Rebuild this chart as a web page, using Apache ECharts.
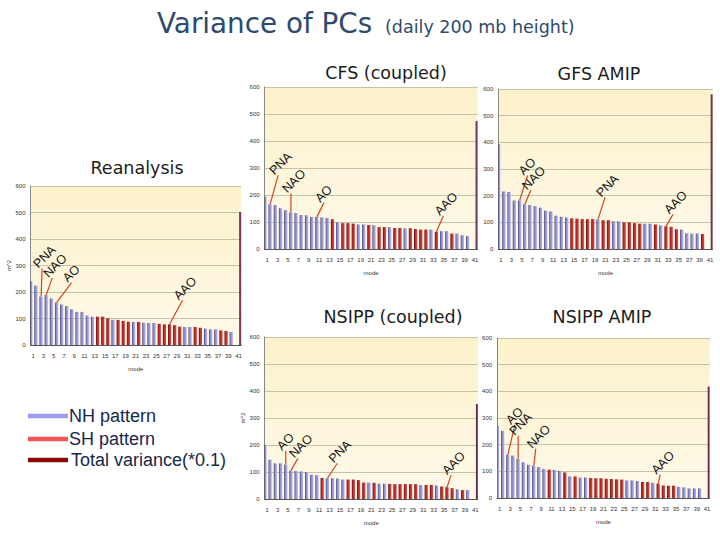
<!DOCTYPE html>
<html><head><meta charset="utf-8">
<script src="https://cdn.jsdelivr.net/npm/echarts@6/dist/echarts.min.js"></script>
<style>html,body{margin:0;padding:0;background:#fff}#c{width:720px;height:540px}</style>
</head><body><div id="c"></div>
<script>
// ---------- DATA ----------
const modes = ['1','2','3','4','5','6','7','8','9','10','11','12','13','14','15','16','17','18','19','20',
  '21','22','23','24','25','26','27','28','29','30','31','32','33','34','35','36','37','38','39','40','41'];
const yTicks = [0,100,200,300,400,500,600];
const panelTitles = ['Reanalysis','CFS (coupled)','GFS AMIP','NSIPP (coupled)','NSIPP AMIP'];
const legendLabels = ['NH pattern','SH pattern','Total variance(*0.1)'];

const reanalysisValues = [241,224,183,189,176,160,153,147,135,125,125,111,107,107,107,101,95,95,91,88,
  87,87,84,83,83,80,78,78,75,69,68,68,68,65,62,59,59,55,53,49];
const reanalysisHemi = 'NNNNNNNNNNNNNSSSNSSSNSNNNSSSSSNNSSNNNSSN';
const reanalysisTotal = 502;
const reanalysisMarks = [['PNA',3],['NAO',4],['AO',6],['AAO',28]];

const cfsValues = [194,166,163,151,144,136,133,126,125,119,119,117,115,110,99,96,96,94,91,91,
  89,88,81,81,81,78,78,77,77,74,72,72,72,64,66,66,57,57,51,48];
const cfsHemi = 'NNNNNNNNNNNNNSNSSSNNSNSSNSSNSSSSNSNNSNNN';
const cfsTotal = 474;
const cfsMarks = [['PNA',2],['NAO',6],['AO',11],['AAO',34]];

const gfsValues = [393,216,214,182,182,168,165,161,155,144,141,125,121,118,115,114,112,112,112,111,
  108,108,104,104,100,100,97,95,95,95,92,89,85,83,74,73,59,58,58,56];
const gfsHemi = 'NNNNNNNNNNNNNNSSSSSNSSNNSSSSNNSNSSSNNNNS';
const gfsTotal = 580;
const gfsMarks = [['AO',5],['NAO',6],['PNA',20],['AAO',33]];

const nsippCValues = [201,146,132,132,127,106,104,102,100,90,88,78,77,77,76,72,72,72,70,61,
  61,60,57,57,56,55,55,55,55,55,52,52,52,50,46,44,40,36,33,33];
const nsippCHemi = 'NNNNNNNNNNNSNNNNSSSSNSNNSSSSSSNSSNSSSNSN';
const nsippCTotal = 352;
const nsippCMarks = [['AO',5],['NAO',6],['PNA',13],['AAO',36]];

const nsippAValues = [271,252,162,159,147,134,125,121,116,109,106,105,102,96,81,81,77,77,75,74,
  74,72,71,70,69,66,66,64,60,60,57,54,47,46,46,42,40,36,36,36];
const nsippAHemi = 'NNNNNNNNNNSNNSNSNNSSSSSSSNNNSSNSSSSNNNNN';
const nsippATotal = 418;
const nsippAMarks = [['AO',3],['PNA',5],['NAO',8],['AAO',32]];

// ---------- LAYOUT / STYLE ----------
const panels = [
  {values:reanalysisValues, hemi:reanalysisHemi, total:reanalysisTotal, marks:reanalysisMarks,
   grid:{left:30.5, top:186, width:210.7, height:159}, yName:'m^2',
   title:{x:137, y:168}, leaders:[[1,-28],[6,-17],[15,-20],[13,-24]]},
  {values:cfsValues, hemi:cfsHemi, total:cfsTotal, marks:cfsMarks,
   grid:{left:264.6, top:87, width:213, height:162}, yName:'',
   title:{x:386, y:73}, leaders:[[8,-29],[0,-19],[7,-14],[7,-16]]},
  {values:gfsValues, hemi:gfsHemi, total:gfsTotal, marks:gfsMarks,
   grid:{left:498.3, top:89, width:214.4, height:160}, yName:'',
   title:{x:599, y:74}, leaders:[[8,-25],[6,-14],[7,-22],[7,-12]]},
  {values:nsippCValues, hemi:nsippCHemi, total:nsippCTotal, marks:nsippCMarks,
   grid:{left:264.6, top:337, width:213.3, height:162}, yName:'m^2',
   title:{x:393, y:317}, leaders:[[0,-14],[7,-12],[10,-15],[4,-12]]},
  {values:nsippAValues, hemi:nsippAHemi, total:nsippATotal, marks:nsippAMarks,
   grid:{left:497.1, top:338, width:212.6, height:160}, yName:'',
   title:{x:602, y:317}, leaders:[[7,-30],[0,-23],[2,-17],[2,-9]]}
];

const lg = (stops) => ({type:'linear', x:0, y:0, x2:1, y2:0,
  colorStops: stops.map((c)=>({offset:c[0], color:c[1]}))});
const nhColor = lg([[0,'#2f2f66'],[0.3,'#8585c8'],[1,'#b8b8e8']]);
const shColor = lg([[0,'#5a0808'],[0.3,'#b22424'],[1,'#d65050']]);
const totColor = lg([[0,'#3a1024'],[0.4,'#73304f'],[1,'#8a4463']]);
const plotBg = {type:'linear', x:0, y:0, x2:0, y2:1,
  colorStops:[{offset:0,color:'#fcf1ca'},{offset:1,color:'#fffaea'}]};
const axisFont = 'Liberation Sans';

const grids=[], xAxes=[], yAxes=[], series=[];
panels.forEach((p,g)=>{
  grids.push(Object.assign({show:true, backgroundColor:plotBg, borderWidth:0}, p.grid));
  xAxes.push({type:'category', gridIndex:g, data:modes,
    axisTick:{show:false}, axisLine:{lineStyle:{color:'#555', width:1}},
    axisLabel:{interval:1, fontSize:6, color:'#333', margin:8, fontFamily:axisFont},
    name:'mode', nameLocation:'middle', nameGap:21,
    nameTextStyle:{fontSize:6, color:'#333', fontFamily:axisFont}});
  yAxes.push({type:'value', gridIndex:g, min:yTicks[0], max:yTicks[yTicks.length-1], interval:100,
    axisLine:{show:true, lineStyle:{color:'#888'}}, axisTick:{show:false},
    splitLine:{lineStyle:{color:'#c6c2aa', width:1}},
    axisLabel:{fontSize:6, color:'#333', margin:5, fontFamily:axisFont},
    name:p.yName, nameLocation:'middle', nameGap:17, nameRotate:90,
    nameTextStyle:{fontSize:6, color:'#333', fontFamily:axisFont}});
  const main = p.values.map((v,i)=>({value:v, itemStyle:{color: p.hemi[i]==='N' ? nhColor : shColor}}));
  main.push('-');
  const tot = p.values.map(()=> '-');
  tot.push({value:p.total, itemStyle:{color:totColor}});
  series.push({type:'bar', xAxisIndex:g, yAxisIndex:g, barWidth:3.2, barGap:'40%', data:main, silent:true});
  series.push({type:'bar', xAxisIndex:g, yAxisIndex:g, barWidth:3.2, barGap:'40%', data:tot, silent:true});
});

const chart = echarts.init(document.getElementById('c'), null, {renderer:'svg', width:720, height:540});
chart.setOption({animation:false, backgroundColor:'#ffffff',
  grid:grids, xAxis:xAxes, yAxis:yAxes, series:series});

// ---------- GRAPHICS (titles, legend, annotations) ----------
const titleColor = '#2E4A6C';
const els = [
  {type:'text', x:157, y:23, style:{text:'Variance of PCs', font:'27.8px "DejaVu Sans"', fill:titleColor, textAlign:'left', textVerticalAlign:'middle'}},
  {type:'text', x:385, y:27, style:{text:'(daily 200 mb height)', font:'17.5px "DejaVu Sans"', fill:titleColor, textAlign:'left', textVerticalAlign:'middle'}}
];
panels.forEach((p,g)=>{
  els.push({type:'text', x:p.title.x, y:p.title.y, style:{text:panelTitles[g], font:'17.5px "DejaVu Sans"', fill:'#1c1c1c', textAlign:'center', textVerticalAlign:'middle'}});
});
const legendColors = ['#9b9bef','#f25656','#8b0a0a'];
const legendY = [416, 439, 460];
const legendTextX = [69, 69, 71];
legendLabels.forEach((t,i)=>{
  els.push({type:'line', shape:{x1:28, y1:legendY[i], x2:68, y2:legendY[i]}, style:{stroke:legendColors[i], lineWidth:4.5}});
  els.push({type:'text', x:legendTextX[i], y:legendY[i], style:{text:t, font:'18px "Liberation Sans"', fill:'#17284a', textAlign:'left', textVerticalAlign:'middle'}});
});

panels.forEach((p,g)=>{
  const data = chart.getModel().getSeriesByIndex(2*g).getData();
  p.marks.forEach((m,k)=>{
    const idx = m[1]-1;
    let x, y;
    const lay = data.getItemLayout(idx);
    if (lay && isFinite(lay.x)) {
      x = lay.x + lay.width/2; y = Math.min(lay.y, lay.y + lay.height);
    } else {
      const pt = chart.convertToPixel({xAxisIndex:g, yAxisIndex:g}, [idx, p.values[idx]]);
      x = pt[0]; y = pt[1];
    }
    const d = p.leaders[k];
    els.push({type:'line', shape:{x1:x, y1:y, x2:x+d[0], y2:y+d[1]}, style:{stroke:'#d2451e', lineWidth:1.2}});
    els.push({type:'text', x:x+d[0]-2, y:y+d[1]+2, rotation:Math.PI/4,
      style:{text:m[0], font:'12.5px "Liberation Sans"', fill:'#111', textAlign:'left', textVerticalAlign:'bottom'}});
  });
});
chart.setOption({graphic:els});
</script>
</body></html>
